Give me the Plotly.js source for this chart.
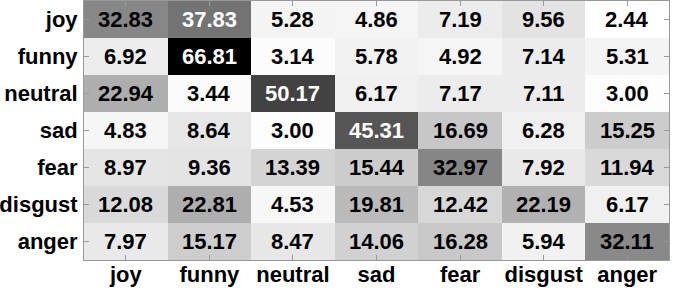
<!DOCTYPE html>
<html>
<head>
<meta charset="utf-8">
<script src="https://cdn.plot.ly/plotly-3.0.1.min.js"></script>
<style>
html,body{margin:0;padding:0;background:#fff;}
#chart{width:673px;height:288px;}
</style>
</head>
<body>
<div id="chart"></div>
<script>
const predicted = ["joy", "funny", "neutral", "sad", "fear", "disgust", "anger"];
const actual = ["joy", "funny", "neutral", "sad", "fear", "disgust", "anger"];

const joyRow = [32.83, 37.83, 5.28, 4.86, 7.19, 9.56, 2.44];
const funnyRow = [6.92, 66.81, 3.14, 5.78, 4.92, 7.14, 5.31];
const neutralRow = [22.94, 3.44, 50.17, 6.17, 7.17, 7.11, 3.00];
const sadRow = [4.83, 8.64, 3.00, 45.31, 16.69, 6.28, 15.25];
const fearRow = [8.97, 9.36, 13.39, 15.44, 32.97, 7.92, 11.94];
const disgustRow = [12.08, 22.81, 4.53, 19.81, 12.42, 22.19, 6.17];
const angerRow = [7.97, 15.17, 8.47, 14.06, 16.28, 5.94, 32.11];

const z = [joyRow, funnyRow, neutralRow, sadRow, fearRow, disgustRow, angerRow];

let zmin = Infinity, zmax = -Infinity;
z.forEach(r => r.forEach(v => { zmin = Math.min(zmin, v); zmax = Math.max(zmax, v); }));

const FONT = 'Liberation Sans, Arial, Helvetica, sans-serif';

const annotations = [];
z.forEach((row, i) => {
  row.forEach((v, j) => {
    const frac = (v - zmin) / (zmax - zmin);
    const gray = 255 * (1 - frac);
    annotations.push({
      x: predicted[j], y: actual[i], xref: 'x', yref: 'y',
      text: v.toFixed(2), showarrow: false,
      font: {family: FONT, size: 22, color: gray < 128 ? '#ffffff' : '#000000', weight: 'bold'}
    });
  });
});

const trace = {
  type: 'heatmap',
  x: predicted, y: actual, z: z,
  zmin: zmin, zmax: zmax,
  colorscale: [[0, '#ffffff'], [1, '#000000']],
  showscale: false,
  xgap: 0, ygap: 0,
  hoverinfo: 'skip'
};

const axisCommon = {
  showline: true, linecolor: '#999999', linewidth: 1,
  mirror: 'ticks', ticks: 'inside', ticklen: 5, tickcolor: '#999999', tickwidth: 1,
  showgrid: false, zeroline: false,
  tickfont: {family: FONT, size: 22, color: '#000000', weight: 'bold'},
  type: 'category'
};

const layout = {
  width: 673, height: 288,
  margin: {l: 84, r: 4, t: 1, b: 28},
  paper_bgcolor: '#ffffff', plot_bgcolor: '#ffffff',
  xaxis: Object.assign({}, axisCommon, {categoryorder: 'array', categoryarray: predicted, ticklabelstandoff: -5}),
  yaxis: Object.assign({}, axisCommon, {autorange: 'reversed', categoryorder: 'array', categoryarray: actual, ticklabelstandoff: 1}),
  annotations: annotations,
  showlegend: false
};

Plotly.newPlot('chart', [trace], layout, {displayModeBar: false, staticPlot: true});
</script>
</body>
</html>
